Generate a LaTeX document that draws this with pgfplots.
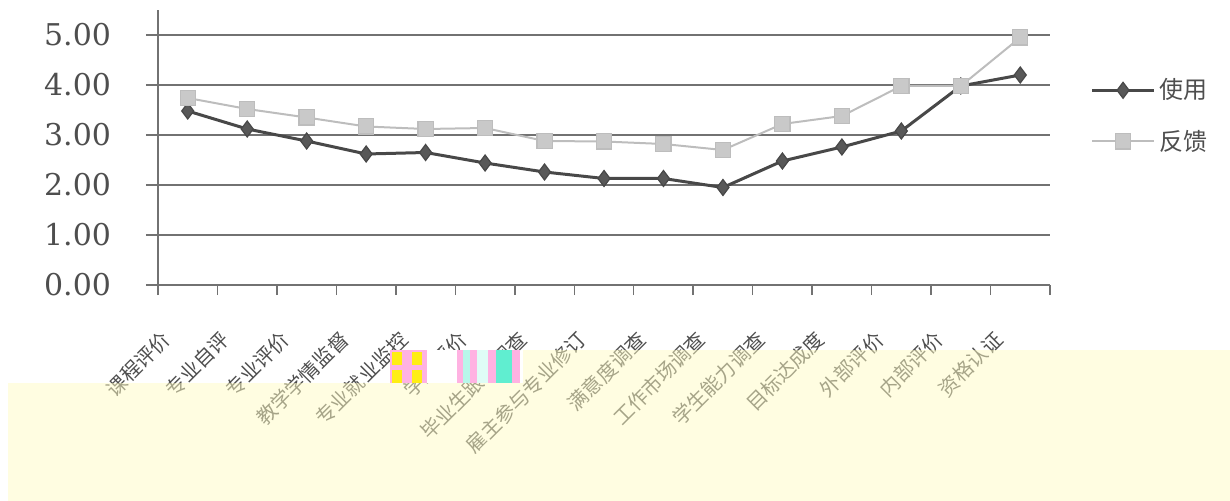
\documentclass[border=0pt]{standalone}
\usepackage{fontspec}
\usepackage{pgfplots}
\pgfplotsset{compat=1.18}
\newfontfamily\cjk{Noto Sans CJK SC}
\newfontfamily\numfont{DejaVu Serif}

\definecolor{gridgray}{HTML}{727272}
\definecolor{usecol}{HTML}{484848}
\definecolor{usemark}{HTML}{585858}
\definecolor{fbcol}{HTML}{BDBDBD}
\definecolor{fbmark}{HTML}{C9C9C9}
\definecolor{labcol}{HTML}{4E4E4E}
\definecolor{scanyellow}{RGB}{255,251,195}
\definecolor{gpink}{RGB}{255,178,226}
\definecolor{gcyan}{RGB}{96,238,208}
\definecolor{gyellow}{RGB}{255,238,20}

\begin{document}
\begin{tikzpicture}
% page frame in reference pixels (1px = 0.5pt)
\begin{scope}[x=0.5pt,y=-0.5pt]
\path[use as bounding box] (0,0) rectangle (1230,501);
\end{scope}

\begin{axis}[
    at={(79pt,-142.5pt)}, anchor=south west,
    scale only axis,
    width=446pt,
    height=137.5pt,
    xmin=0.5, xmax=15.5,
    ymin=0, ymax=5.5,
    axis x line*=bottom,
    axis y line*=left,
    axis line style={draw=gridgray, line width=0.75pt, -},
    xtick={1,...,15},
    xticklabels={课程评价,专业自评,专业评价,教学学情监督,专业就业监控,学生评价,毕业生跟踪调查,雇主参与专业修订,满意度调查,工作市场调查,学生能力调查,目标达成度,外部评价,内部评价,资格认证},
    minor xtick={0.5,1.5,...,15.5},
    major x tick style={draw=none},
    minor x tick style={draw=gridgray, line width=0.75pt},
    minor tick length=5pt,
    ytick={0,1,2,3,4,5},
    yticklabels={0.00,1.00,2.00,3.00,4.00,5.00},
    major y tick style={draw=gridgray, line width=0.75pt},
    major tick length=6pt,
    tick align=outside,
    xtick pos=bottom,
    ytick pos=left,
    ymajorgrids=true,
    grid style={draw=gridgray, line width=0.75pt},
    yticklabel style={font=\numfont\fontsize{15}{15}\selectfont, text=labcol, anchor=east, xshift=-14pt},
    xticklabel style={font=\cjk\fontsize{10}{10}\selectfont, text=labcol, xshift=-14pt, yshift=-16pt, rotate=45, anchor=north east, inner sep=0pt},
    legend style={at={(axis description cs:1.045,0.615)}, anchor=west, draw=none, fill=none,
        font=\cjk\fontsize{12}{12}\selectfont, text=labcol, row sep=10pt, inner sep=0pt},
    legend cell align=left,
    legend image code/.code={\draw[mark repeat=2,mark phase=2,#1] plot coordinates {(0pt,0pt) (15.5pt,0pt) (31pt,0pt)};},
]

    \addplot[color=usecol, line width=1.5pt, mark=diamond*, mark size=4pt,
        mark options={fill=usemark, draw=usecol, line width=0.6pt}]
        coordinates {(1,3.48)(2,3.12)(3,2.88)(4,2.62)(5,2.65)(6,2.44)(7,2.26)(8,2.13)(9,2.13)(10,1.95)(11,2.48)(12,2.76)(13,3.08)(14,3.98)(15,4.20)};
        \addlegendentry{使用}

    \addplot[color=fbcol, line width=1pt, mark=square*, mark size=3.8pt,
        mark options={fill=fbmark, draw=fbcol, line width=0.6pt}]
        coordinates {(1,3.74)(2,3.52)(3,3.35)(4,3.17)(5,3.12)(6,3.14)(7,2.88)(8,2.87)(9,2.82)(10,2.70)(11,3.22)(12,3.38)(13,3.98)(14,3.98)(15,4.95)};
        \addlegendentry{反馈}

\end{axis}

% scanned-page overlay at the bottom
\begin{scope}[x=0.5pt,y=-0.5pt]
\fill[scanyellow, fill opacity=0.5] (8,383) rectangle (523,501);
\fill[scanyellow, fill opacity=0.5] (523,350) rectangle (1230,501);
% colour glitch strip
\fill[gpink] (390,350) rectangle (427,383);
\fill[gyellow] (392,352) rectangle (402,365);
\fill[gyellow] (412,352) rectangle (422,365);
\fill[gyellow] (392,370) rectangle (402,383);
\fill[gyellow] (412,370) rectangle (422,383);
\fill[white] (427,350) rectangle (457,383);
\fill[gpink] (457,350) rectangle (463,383);
\fill[gcyan!45] (463,350) rectangle (470,383);
\fill[gpink] (470,350) rectangle (477,383);
\fill[gcyan!20] (477,350) rectangle (488,383);
\fill[gpink] (488,350) rectangle (496,383);
\fill[gcyan] (496,350) rectangle (512,383);
\fill[gpink] (512,350) rectangle (520,383);
\end{scope}
\end{tikzpicture}
\end{document}
